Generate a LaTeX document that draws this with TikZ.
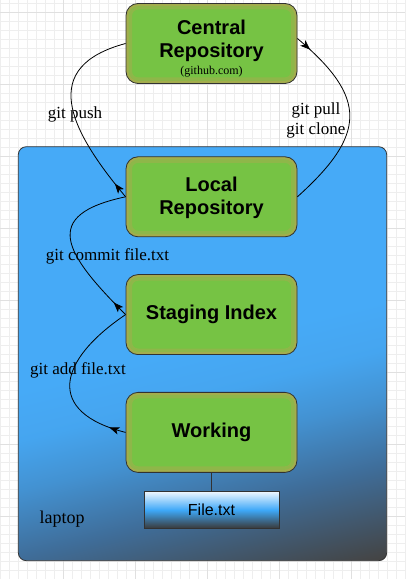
\documentclass[tikz,border=0pt]{standalone}
\usepackage{fontspec}
\setmainfont{Liberation Serif}
\newfontfamily\boxfont{Liberation Sans}
\usetikzlibrary{positioning,arrows.meta,decorations.markings}

\definecolor{repogreen}{RGB}{118,195,68}
\definecolor{speckle}{RGB}{214,150,88}
\definecolor{boxline}{RGB}{50,50,50}
\definecolor{laptopblue}{RGB}{70,170,247}
\definecolor{laptopmid}{RGB}{63,109,153}
\definecolor{laptopdark}{RGB}{68,68,68}
\definecolor{filetop}{RGB}{236,246,255}
\definecolor{filemid}{RGB}{62,168,248}
\definecolor{filebottom}{RGB}{58,58,58}
\definecolor{gridminor}{RGB}{238,238,238}
\definecolor{gridmajor}{RGB}{224,224,224}

\pgfdeclareverticalshading{laptopshade}{100bp}{color(0bp)=(laptopdark); color(20bp)=(laptopdark); color(31bp)=(laptopmid); color(39bp)=(laptopblue!60!laptopmid); color(45bp)=(laptopblue!92!laptopmid); color(51bp)=(laptopblue); color(100bp)=(laptopblue)}

\tikzset{
  repo/.style={draw=boxline, line width=0.8pt, fill=repogreen, rounded corners=12pt,
    minimum width=171pt, minimum height=80pt, align=center,
    font=\boxfont\bfseries\fontsize{20}{23}\selectfont,
    path picture={
      \draw [speckle, line width=12pt, opacity=.25, rounded corners=12pt] (path picture bounding box.south west) rectangle (path picture bounding box.north east);
      \draw [speckle, line width=5pt, opacity=.3, rounded corners=12pt] (path picture bounding box.south west) rectangle (path picture bounding box.north east);
    }},
  gitflow/.style={draw, line width=0.8pt, postaction={decorate},
    decoration={markings, mark=at position 17pt with {\arrow{Stealth[length=10pt, width=7.5pt, inset=2.5pt]}}}},
  gitlabel/.style={font=\fontsize{17}{20}\selectfont, align=center},
}

\begin{document}
\begin{tikzpicture}[x=1pt, y=1pt, node distance=37pt]
  \useasboundingbox (0,0) rectangle (405,579);
  % grid paper
  \draw [gridminor, line width=0.5pt, step=9pt, shift={(0,8.3)}] (0,-8.3) grid (405,570.7);
  \draw [gridmajor, line width=0.6pt, step=72pt, shift={(-9,62.3)}] (9,-62.3) grid (414,516.7);
  % laptop
  \node [draw=boxline, line width=0.8pt, rounded corners=8pt, shading=laptopshade, shading angle=14, minimum width=368.4pt, minimum height=414pt] (laptop) at (202.5,225.3) {};
  \node [gitlabel, font=\fontsize{18}{20}\selectfont] (laptoplabel) at (62,60) {laptop};
  % repositories
  \node [repo] (central) at (211.5,535.5) {\rule{0pt}{24pt}Central\\Repository\\[-6pt]{\rmfamily\mdseries\fontsize{12}{14}\selectfont (github.com)}};
  \node [repo, below=72.5pt of central] (local) {\rule{0pt}{17pt}Local\\Repository};
  \node [repo, below=of local] (staging) {Staging Index};
  \node [repo, below=of staging] (working) {Working};
  \node [draw=boxline, line width=0.8pt, top color=filetop, bottom color=filebottom, middle color=filemid, minimum width=135pt, minimum height=36.5pt, font=\boxfont\fontsize{16}{19}\selectfont, below=18.5pt of working] (file) {File.txt};
  \draw [boxline, line width=0.8pt] (working) -- (file);
  % git commands
  \path (local.west) edge [gitflow, out=130, in=195, looseness=1.5] (central.west);
  \path ([yshift=5pt]central.east) edge [gitflow, out=-40, in=42, looseness=1.5] (local.east);
  \path (staging.west) edge [gitflow, out=135, in=192, looseness=1.9] (local.west);
  \path (working.west) edge [gitflow, out=166, in=214, looseness=1.8] (staging.west);
  \node [gitlabel] (push) at (75,465) {git push};
  \node [gitlabel] (pull) at (316,459) {git pull\\git clone};
  \node [gitlabel] (commit) at (107.5,322.3) {git commit file.txt};
  \node [gitlabel] (add) at (78,209) {git add file.txt};
\end{tikzpicture}
\end{document}
